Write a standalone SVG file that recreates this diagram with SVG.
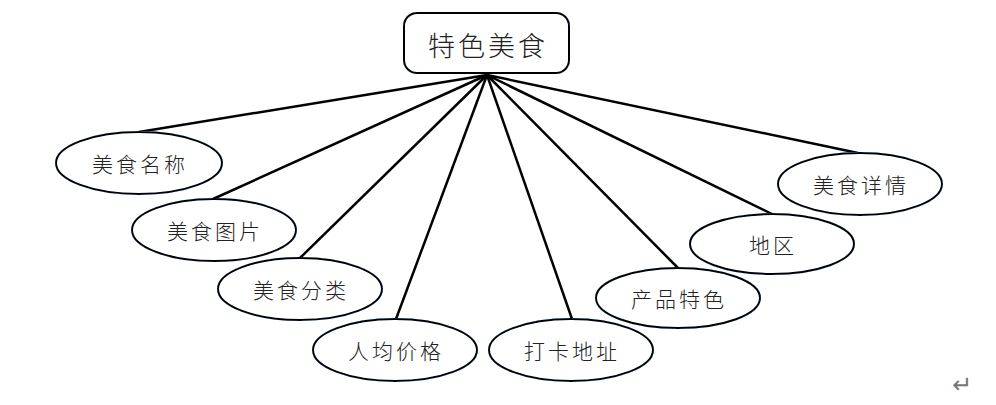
<svg xmlns="http://www.w3.org/2000/svg" width="996" height="405" viewBox="0 0 996 405">
<defs>
<filter id="glow" x="-10%" y="-20%" width="120%" height="140%">
<feGaussianBlur in="SourceAlpha" stdDeviation="2.5"/>
<feOffset dx="1" dy="2"/>
<feComponentTransfer><feFuncA type="linear" slope="0.25"/></feComponentTransfer>
<feFlood flood-color="#6a8fd0"/>
<feComposite operator="in" in2="SourceAlpha"/>
<feMerge><feMergeNode/><feMergeNode in="SourceGraphic"/></feMerge>
</filter>
<style>
.node{fill:#fff;stroke:#000;stroke-width:2}
.lbl{font-family:"Noto Sans CJK SC","Noto Sans",sans-serif;font-size:21px;font-weight:300;fill:#222;text-anchor:middle;dominant-baseline:central;letter-spacing:3px}
.conn line{stroke:#000;stroke-width:2.5}
</style>
</defs>
<rect width="996" height="405" fill="#fff"/>
<g id="connectors" class="conn">
<line x1="487" y1="75" x2="139" y2="132"/>
<line x1="487" y1="75" x2="213" y2="199"/>
<line x1="487" y1="75" x2="300" y2="258"/>
<line x1="487" y1="75" x2="396" y2="319"/>
<line x1="487" y1="75" x2="572" y2="319"/>
<line x1="487" y1="75" x2="678" y2="268"/>
<line x1="487" y1="75" x2="772" y2="214"/>
<line x1="487" y1="75" x2="858" y2="153"/>
</g>
<g id="root">
<rect class="node" x="404" y="13" width="165" height="60" rx="13" filter="url(#glow)"/>
<text class="lbl" x="488" y="44" style="font-size:27px">特色美食</text>
</g>
<g id="n1"><ellipse class="node" cx="139" cy="163" rx="83" ry="31" filter="url(#glow)"/><text class="lbl" x="140" y="163">美食名称</text></g>
<g id="n2"><ellipse class="node" cx="214" cy="230" rx="82" ry="31" filter="url(#glow)"/><text class="lbl" x="215" y="230">美食图片</text></g>
<g id="n3"><ellipse class="node" cx="300" cy="289" rx="82" ry="31" filter="url(#glow)"/><text class="lbl" x="301" y="289">美食分类</text></g>
<g id="n4"><ellipse class="node" cx="395" cy="350" rx="82" ry="31" filter="url(#glow)"/><text class="lbl" x="396" y="350">人均价格</text></g>
<g id="n5"><ellipse class="node" cx="571" cy="350" rx="82" ry="31" filter="url(#glow)"/><text class="lbl" x="572" y="350">打卡地址</text></g>
<g id="n6"><ellipse class="node" cx="678" cy="298" rx="82" ry="30" filter="url(#glow)"/><text class="lbl" x="679" y="298">产品特色</text></g>
<g id="n7"><ellipse class="node" cx="772" cy="244" rx="82" ry="30" filter="url(#glow)"/><text class="lbl" x="773" y="244">地区</text></g>
<g id="n8"><ellipse class="node" cx="860" cy="184" rx="82" ry="31" filter="url(#glow)"/><text class="lbl" x="861" y="184">美食详情</text></g>
<text x="962" y="385" font-family="'DejaVu Sans',sans-serif" font-size="24" fill="#777" text-anchor="middle" dominant-baseline="central">↵</text>
</svg>
